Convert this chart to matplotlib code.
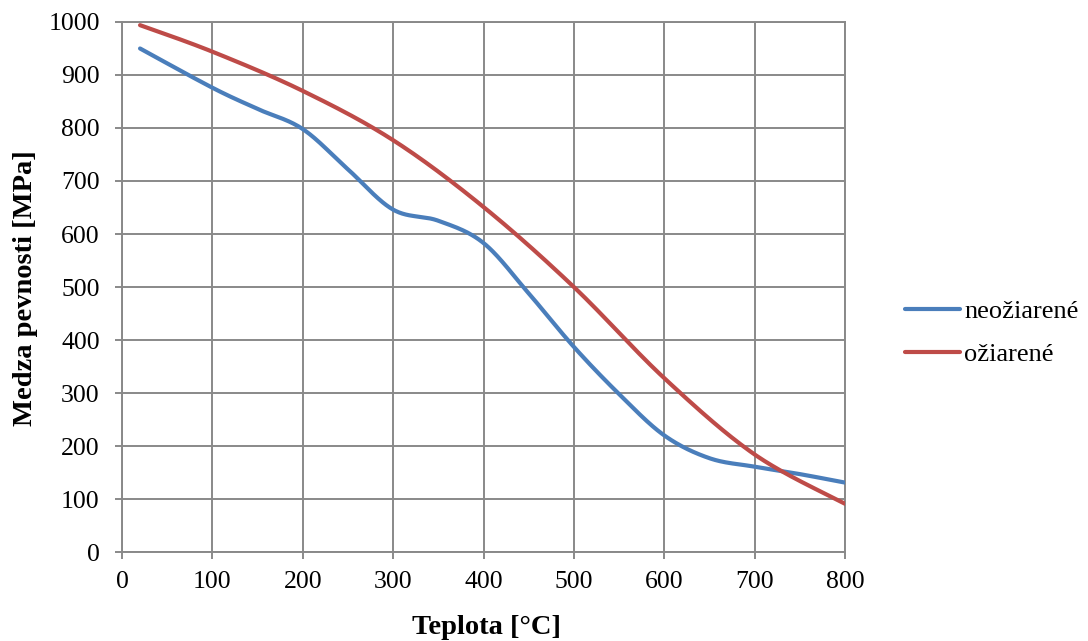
import numpy as np
import matplotlib
matplotlib.use("Agg")
import matplotlib.pyplot as plt

# Data
x_neo = [20, 100, 150, 200, 250, 300, 350, 400, 450, 500, 550, 600, 650, 700, 750, 800]
y_neo = [950, 876, 836, 798, 722, 646, 625, 583, 488, 387, 298, 220, 177, 161, 147, 131]
x_oz = [20, 100, 200, 300, 400, 500, 600, 700, 800]
y_oz = [994, 944, 870, 777, 651, 500, 328, 184, 91]
labels = ["neožiarené", "ožiarené"]
x_ticks = [0, 100, 200, 300, 400, 500, 600, 700, 800]
y_ticks = [0, 100, 200, 300, 400, 500, 600, 700, 800, 900, 1000]


def smooth(xs, ys, n=40):
    """Excel-like smoothed line (Catmull-Rom style Bezier)."""
    P = np.column_stack([xs, ys]).astype(float)
    out = []
    m = len(P)
    for i in range(m - 1):
        p0 = P[i - 1] if i > 0 else P[i]
        p1 = P[i]
        p2 = P[i + 1]
        p3 = P[i + 2] if i + 2 < m else P[i + 1]
        c1 = p1 + (p2 - p0) / 6.0
        c2 = p2 - (p3 - p1) / 6.0
        t = np.linspace(0, 1, n)[:, None]
        seg = ((1 - t) ** 3) * p1 + 3 * ((1 - t) ** 2) * t * c1 + 3 * (1 - t) * t ** 2 * c2 + t ** 3 * p2
        out.append(seg if i == 0 else seg[1:])
    out = np.vstack(out)
    return out[:, 0], out[:, 1]


plt.rcParams['font.family'] = ['Liberation Serif', 'DejaVu Serif']

fig = plt.figure(figsize=(10.88, 6.41), dpi=100)
ax = fig.add_axes([0.1121, 0.1388, 0.6646, 0.8269])

blue = '#4A7EBB'
red = '#BE4B48'
sx, sy = smooth(x_neo, y_neo)
ax.plot(sx, sy, color=blue, lw=3.0, solid_capstyle='round', label=labels[0], zorder=3)
sx, sy = smooth(x_oz, y_oz)
ax.plot(sx, sy, color=red, lw=3.0, solid_capstyle='round', label=labels[1], zorder=3)

ax.set_xlim(0, 800)
ax.set_ylim(0, 1000)
ax.set_xticks(x_ticks)
ax.set_yticks(y_ticks)
ax.grid(True, color='#898989', lw=1.4)
for s in ax.spines.values():
    s.set_color('#898989')
    s.set_linewidth(1.4)
ax.tick_params(axis='both', colors='#898989', length=5, width=1.4, labelcolor='black', labelsize=18.5)
ax.tick_params(axis='x', pad=9)
ax.tick_params(axis='y', pad=11)

fig.text(486 / 1088, 1 - 634 / 641, 'Teplota [°C]', fontsize=20.5, fontweight='bold',
         ha='center', va='baseline')
fig.text(26 / 1088, 1 - 288 / 641, 'Medza pevnosti [MPa]', fontsize=20.5, fontweight='bold',
         ha='center', va='center', rotation=90)

leg = fig.legend(loc='center left', bbox_to_anchor=(905 / 1088, 1 - 333 / 641), frameon=False,
                 fontsize=19, handlelength=2.1, handletextpad=0.15, labelspacing=0.72,
                 borderpad=0, borderaxespad=0)

fig.savefig('out.png', dpi=100)
